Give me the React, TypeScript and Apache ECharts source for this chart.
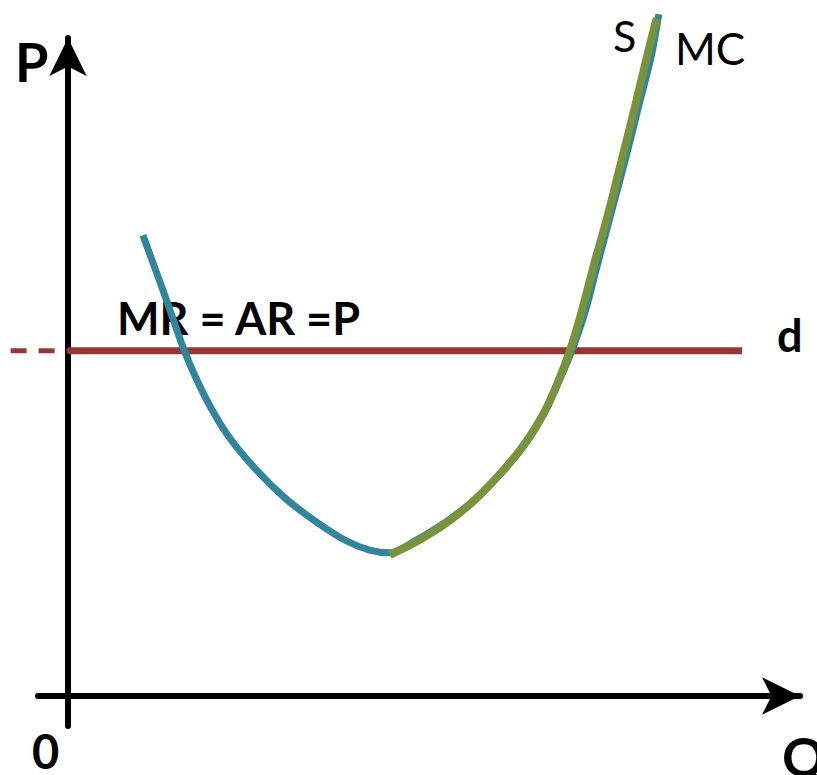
import React, { useEffect, useRef } from "react";
import * as echarts from "echarts";

// Marginal cost curve (MC) (Q, P units)
const mcQ = [1.07, 1.39, 1.67, 1.96, 2.29, 2.67, 3.1, 3.53, 3.96, 4.31, 4.6, 4.97, 5.4, 5.84, 6.24, 6.56, 6.81, 7.01, 7.2, 7.39, 7.56, 7.74, 7.96, 8.16, 8.33, 8.44];
const mcP = [6.98, 6.05, 5.21, 4.53, 3.94, 3.45, 3.0, 2.65, 2.36, 2.21, 2.17, 2.36, 2.64, 3.0, 3.44, 3.86, 4.3, 4.76, 5.24, 5.83, 6.52, 7.24, 8.12, 8.97, 9.68, 10.33];
// Supply curve (S) = rising part of MC above its minimum
const sQ = [4.6, 4.96, 5.39, 5.81, 6.21, 6.53, 6.79, 6.99, 7.17, 7.34, 7.51, 7.7, 7.91, 8.11, 8.27, 8.41];
const sP = [2.14, 2.33, 2.61, 2.97, 3.41, 3.83, 4.27, 4.73, 5.23, 5.83, 6.52, 7.24, 8.12, 8.97, 9.68, 10.27];
// Demand line d: MR = AR = P
const price = 5.23;
const demandQ = [0, 9.63];
const dashQ = [-0.82, 0];

const TEAL = "#31859C";
const GREEN = "#77933C";
const RED = "#953735";

export default function App() {
  const ref = useRef<HTMLDivElement>(null);
  useEffect(() => {
    if (!ref.current) return;
    const chart = echarts.init(ref.current, undefined, { renderer: "svg" });
    const hidden = {
      axisTick: { show: false },
      axisLabel: { show: false },
      splitLine: { show: false },
    };
    const arrowLine = {
      show: true,
      onZero: true,
      symbol: ["none", "arrow"],
      symbolSize: [28, 38],
      lineStyle: { color: "#000", width: 6 },
    };
    const xMin = -58 / 70;
    const xMax = 732 / 70;
    const yMin = -30 / 66;
    const yMax = 658 / 66;
    chart.setOption({
      animation: false,
      backgroundColor: "#ffffff",
      grid: [
        { left: 10, top: 38, width: 790, height: 688, containLabel: false, outerBoundsMode: "none" },
        { left: 38, top: 38, width: 762, height: 688, containLabel: false, outerBoundsMode: "none" },
      ],
      xAxis: [
        { type: "value", gridIndex: 0, min: xMin, max: xMax, axisLine: { show: false }, ...hidden },
        { type: "value", gridIndex: 1, min: -30 / 70, max: xMax, axisLine: arrowLine, ...hidden },
      ],
      yAxis: [
        { type: "value", gridIndex: 0, min: yMin, max: yMax, axisLine: arrowLine, ...hidden },
        { type: "value", gridIndex: 1, min: yMin, max: yMax, axisLine: { show: false }, ...hidden },
      ],
      graphic: [
        { type: "text", x: 15, y: 61, z: 1, style: { text: "P", fill: "#000", font: "bold 54px Lato", verticalAlign: "middle", align: "left", lineHeight: 44 } },
        { type: "text", x: 32, y: 751, z: 1, style: { text: "0", fill: "#000", font: "bold 47px Lato", verticalAlign: "middle", align: "left", lineHeight: 38 } },
        { type: "text", x: 782, y: 756, z: 1, style: { text: "Q", fill: "#000", font: "bold 54px Lato", verticalAlign: "middle", align: "left", lineHeight: 36 } },
        { type: "text", x: 117, y: 318, z: 1, style: { text: "MR = AR =P", fill: "#000", font: "bold 45px Lato", verticalAlign: "middle", align: "left" } },
        { type: "text", x: 777, y: 335, z: 1, style: { text: "d", fill: "#000", font: "bold 45px Lato", verticalAlign: "middle", align: "left" } },
        { type: "text", x: 613, y: 35, z: 1, style: { text: "S", fill: "#000", font: "43px Lato", verticalAlign: "middle", align: "left" } },
        { type: "text", x: 675, y: 48, z: 1, style: { text: "MC", fill: "#000", font: "44px Lato", verticalAlign: "middle", align: "left" } },
      ],
      series: [
        {
          type: "line",
          xAxisIndex: 0,
          yAxisIndex: 0,
          data: dashQ.map((q) => [q, price]),
          symbol: "none",
          clip: false,
          silent: true,
          z: 3,
          lineStyle: { color: RED, width: 5, type: [16, 12] },
        },
        {
          type: "line",
          xAxisIndex: 0,
          yAxisIndex: 0,
          data: demandQ.map((q) => [q, price]),
          symbol: "none",
          clip: false,
          silent: true,
          z: 3,
          lineStyle: { color: RED, width: 7 },
        },
        {
          type: "line",
          xAxisIndex: 0,
          yAxisIndex: 0,
          data: mcQ.map((q, i) => [q, mcP[i]]),
          symbol: "none",
          smooth: 0.3,
          clip: false,
          silent: true,
          z: 4,
          lineStyle: { color: TEAL, width: 7 },
        },
        {
          type: "line",
          xAxisIndex: 0,
          yAxisIndex: 0,
          data: sQ.map((q, i) => [q, sP[i]]),
          symbol: "none",
          smooth: 0.3,
          clip: false,
          silent: true,
          z: 5,
          lineStyle: { color: GREEN, width: 8 },
        },
      ],
    });
    return () => chart.dispose();
  }, []);
  return (
    <div
      ref={ref}
      style={{ position: "absolute", left: 0, top: 0, width: 817, height: 775, background: "#fff" }}
    />
  );
}
